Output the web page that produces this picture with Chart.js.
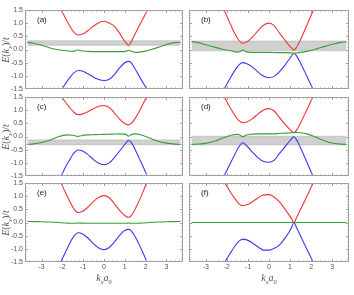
<!DOCTYPE html>
<html>
<head>
<meta charset="utf-8">
<script src="https://cdn.jsdelivr.net/npm/chart.js@4.4.1/dist/chart.umd.min.js"></script>
<style>
  html, body { margin: 0; padding: 0; background: #fff; }
  #wrap { position: relative; width: 354px; height: 295px; overflow: hidden; }
  #wrap canvas { position: absolute; left: 0; top: 0; }
  .tag { position: absolute; font: 8px "Liberation Sans", Arial, sans-serif; color: #222; line-height: 1; }
  .ytitle, .xtitle { position: absolute; font: italic 10px "Liberation Serif", "DejaVu Serif", serif; color: #555; white-space: nowrap; line-height: 1; }
  .ytitle { transform: translate(-50%, -50%) rotate(-90deg); }
  .xtitle { transform: translate(-50%, -50%); }
  .up { font-style: normal; }
  sub { font-size: 6.5px; }
</style>
</head>
<body>
<div id="wrap"></div>
<script>
const kBand = [-2.4, -2.1, -1.85, -1.65, -1.45, -1.25, -1.05, -0.8, -0.5, -0.25, 0, 0.25, 0.5, 0.75, 0.95, 1.08, 1.18, 1.3, 1.5, 1.7, 1.9, 2.1, 2.4];
// k values for the green (middle) band
const kFlat = [-3.68, -3.4, -3.0, -2.6, -2.2, -1.8, -1.5, -1.35, -1.25, -1.1, -0.8, -0.4, 0, 0.4, 0.8, 1.05, 1.18, 1.3, 1.5, 1.8, 2.2, 2.6, 3.0, 3.4, 3.68];
const kShade = [-3.68, 3.68];

const redA  = [2.02, 1.56, 1.19, 0.90, 0.66, 0.55, 0.58, 0.70, 0.89, 1.02, 1.07, 1.01, 0.88, 0.62, 0.36, 0.23, 0.16, 0.28, 0.60, 0.91, 1.21, 1.51, 1.97];
const blueA = [-1.92, -1.58, -1.29, -1.07, -0.89, -0.80, -0.82, -0.91, -1.05, -1.14, -1.18, -1.13, -0.95, -0.70, -0.53, -0.47, -0.45, -0.50, -0.74, -1.02, -1.29, -1.56, -1.98];
const greenA = [0.27, 0.24, 0.16, 0.06, -0.01, -0.05, -0.07, -0.04, -0.02, -0.05, -0.07, -0.08, -0.08, -0.08, -0.08, -0.07, -0.03, -0.06, -0.11, -0.09, -0.02, 0.08, 0.19, 0.26, 0.27];

const redB  = [1.99, 1.44, 0.99, 0.65, 0.37, 0.24, 0.29, 0.46, 0.74, 0.93, 1.00, 0.90, 0.62, 0.36, 0.16, 0.05, -0.02, 0.07, 0.38, 0.74, 1.11, 1.48, 2.06];
const blueB = [-1.89, -1.46, -1.10, -0.83, -0.60, -0.50, -0.54, -0.66, -0.87, -1.02, -1.07, -1.02, -0.84, -0.60, -0.38, -0.23, -0.14, -0.23, -0.52, -0.85, -1.19, -1.53, -2.05];
const greenB = [0.30, 0.27, 0.18, 0.09, 0.01, -0.05, -0.10, -0.07, -0.02, -0.08, -0.11, -0.11, -0.11, -0.12, -0.12, -0.13, -0.14, -0.13, -0.11, -0.07, 0.01, 0.11, 0.20, 0.27, 0.29];

const redC  = [1.98, 1.58, 1.30, 1.10, 0.92, 0.83, 0.85, 0.93, 1.06, 1.15, 1.18, 1.10, 0.90, 0.66, 0.52, 0.46, 0.45, 0.49, 0.69, 0.96, 1.27, 1.58, 2.05];
const blueC = [-2.00, -1.56, -1.16, -0.88, -0.63, -0.51, -0.54, -0.67, -0.88, -1.02, -1.07, -1.00, -0.80, -0.55, -0.35, -0.22, -0.15, -0.21, -0.50, -0.84, -1.18, -1.53, -2.05];
const greenC = [-0.30, -0.28, -0.23, -0.14, -0.01, 0.06, 0.05, 0.02, 0.00, 0.03, 0.06, 0.07, 0.08, 0.09, 0.10, 0.08, 0.01, 0.07, 0.10, 0.06, -0.06, -0.18, -0.25, -0.29, -0.30];

const redD  = [1.88, 1.46, 1.10, 0.84, 0.62, 0.52, 0.55, 0.67, 0.87, 1.01, 1.06, 0.97, 0.72, 0.48, 0.30, 0.20, 0.14, 0.23, 0.52, 0.85, 1.19, 1.53, 2.04];
const blueD = [-1.94, -1.45, -1.04, -0.72, -0.42, -0.24, -0.36, -0.58, -0.82, -0.95, -0.98, -0.90, -0.64, -0.40, -0.20, -0.08, -0.01, -0.11, -0.43, -0.79, -1.16, -1.53, -2.10];
const greenD = [-0.30, -0.29, -0.26, -0.18, -0.06, 0.05, 0.08, 0.04, -0.01, 0.05, 0.09, 0.10, 0.10, 0.11, 0.13, 0.14, 0.15, 0.15, 0.14, 0.10, -0.02, -0.15, -0.25, -0.29, -0.30];

const redE  = [2.09, 1.57, 1.13, 0.81, 0.52, 0.38, 0.42, 0.56, 0.80, 0.96, 1.02, 0.94, 0.71, 0.46, 0.30, 0.22, 0.20, 0.25, 0.51, 0.84, 1.21, 1.60, 2.18];
const blueE = [-2.03, -1.53, -1.12, -0.80, -0.52, -0.39, -0.43, -0.57, -0.81, -0.97, -1.03, -0.95, -0.74, -0.49, -0.33, -0.27, -0.26, -0.31, -0.54, -0.85, -1.20, -1.55, -2.10];
const greenE = [0.04, 0.035, 0.03, 0.02, 0.00, -0.02, -0.03, -0.025, -0.02, -0.025, -0.03, -0.03, -0.03, -0.03, -0.03, -0.03, -0.02, -0.03, -0.03, -0.02, 0.00, 0.02, 0.03, 0.035, 0.04];

const redF  = [1.89, 1.50, 1.18, 0.94, 0.73, 0.64, 0.67, 0.78, 0.95, 1.05, 1.06, 0.96, 0.78, 0.52, 0.29, 0.13, 0.00, 0.17, 0.50, 0.83, 1.17, 1.50, 2.00];
const blueF = [-1.89, -1.50, -1.18, -0.93, -0.73, -0.63, -0.66, -0.77, -0.94, -1.05, -1.05, -0.98, -0.85, -0.60, -0.37, -0.17, 0.00, -0.18, -0.51, -0.85, -1.18, -1.52, -2.02];
const greenF = [0, 0, 0, 0, 0, 0, 0, 0, 0, 0, 0, 0, 0, 0, 0, 0, 0, 0, 0, 0, 0, 0, 0, 0, 0];

// grey shaded energy window per panel (a..f); null = none
const shadeLow  = [0.16, -0.05, -0.31, -0.32, null, null];
const shadeHigh = [0.33, 0.32, -0.13, 0.01, null, null];

const panelTags = ['(a)', '(b)', '(c)', '(d)', '(e)', '(f)'];
const reds   = [redA, redB, redC, redD, redE, redF];
const blues  = [blueA, blueB, blueC, blueD, blueE, blueF];
const greens = [greenA, greenB, greenC, greenD, greenE, greenF];

const xTicks = [-3, -2, -1, 0, 1, 2, 3];
const yTicks = [-1.5, -1.0, -0.5, 0.0, 0.5, 1.0, 1.5];

// layout of the 3x2 grid (page pixels)
const W = 354, H = 295;
const colL = [25, 189], colR = [183, 349];
const rowT = [10, 97, 183], rowB = [89, 176, 262];

const RED = '#f03535', BLUE = '#3838f0', GREEN = '#35a035';

const pts = (ks, vs) => ks.map((k, i) => ({x: k, y: vs[i]}));

// frame with inward ticks, Mathematica style
const framePlugin = {
    id: 'frame',
    afterDraw(chart) {
        const {ctx, chartArea: a, scales: {x, y}} = chart;
        ctx.save();
        ctx.strokeStyle = '#a0a0a0';
        ctx.lineWidth = 1;
        ctx.strokeRect(a.left + 0.5, a.top + 0.5, a.right - a.left - 1, a.bottom - a.top - 1);
        ctx.beginPath();
        for (let i = -18; i <= 18; i++) {
            const v = i / 5;
            const px = Math.round(x.getPixelForValue(v)) + 0.5;
            if (px <= a.left + 1 || px >= a.right - 1) continue;
            const len = i % 5 === 0 ? 3 : 1.5;
            ctx.moveTo(px, a.bottom); ctx.lineTo(px, a.bottom - len);
            ctx.moveTo(px, a.top); ctx.lineTo(px, a.top + len);
        }
        for (let i = -15; i <= 15; i++) {
            const v = i / 10;
            const py = Math.round(y.getPixelForValue(v)) + 0.5;
            if (py <= a.top + 1 || py >= a.bottom - 1) continue;
            const len = i % 5 === 0 ? 3 : 1.5;
            ctx.moveTo(a.left, py); ctx.lineTo(a.left + len, py);
            ctx.moveTo(a.right, py); ctx.lineTo(a.right - len, py);
        }
        ctx.stroke();
        ctx.restore();
    }
};

const wrap = document.getElementById('wrap');

function makePanel(p) {
    const col = p % 2, row = Math.floor(p / 2);
    const canvas = document.createElement('canvas');
    canvas.width = W; canvas.height = H;
    wrap.appendChild(canvas);

    const line = (data, color) => ({
        data: data,
        borderColor: color,
        borderWidth: 1.1,
        pointRadius: 0,
        fill: false,
        cubicInterpolationMode: 'monotone',
        order: 0
    });

    const datasets = [];
    if (shadeLow[p] !== null) {
        datasets.push({
            data: pts(kShade, [shadeLow[p], shadeLow[p]]),
            borderColor: '#b4b4b4', borderWidth: 0.6, pointRadius: 0, fill: false, order: 5
        });
        datasets.push({
            data: pts(kShade, [shadeHigh[p], shadeHigh[p]]),
            borderColor: '#b4b4b4', borderWidth: 0.6, pointRadius: 0,
            fill: '-1', backgroundColor: 'rgba(205,205,205,0.95)', order: 5
        });
    }
    datasets.push(line(pts(kFlat, greens[p]), GREEN));
    datasets.push(line(pts(kBand, blues[p]), BLUE));
    datasets.push(line(pts(kBand, reds[p]), RED));

    const tickFont = {family: '"Liberation Sans", Arial, sans-serif', size: 7};

    // axis boxes take the whole margin so their labels are not clipped
    const yBox = colL[col];
    const xBox = H - rowB[row];

    new Chart(canvas, {
        type: 'line',
        data: {datasets: datasets},
        options: {
            responsive: false,
            animation: false,
            events: [],
            layout: {
                padding: {left: 0, right: W - colR[col], top: rowT[row], bottom: 0}
            },
            plugins: {legend: {display: false}, tooltip: {enabled: false}},
            scales: {
                x: {
                    type: 'linear', min: -3.8, max: 3.8,
                    grid: {display: false, drawTicks: false}, border: {display: false},
                    afterBuildTicks: s => { s.ticks = xTicks.map(v => ({value: v})); },
                    afterFit: s => { s.height = xBox; },
                    ticks: {
                        display: row === 2, padding: 1, color: '#555', font: tickFont,
                        maxRotation: 0, autoSkip: false,
                        callback: v => String(v)
                    }
                },
                y: {
                    type: 'linear', min: -1.5, max: 1.5,
                    grid: {display: false, drawTicks: false}, border: {display: false},
                    afterBuildTicks: s => { s.ticks = yTicks.map(v => ({value: v})); },
                    afterFit: s => { s.width = yBox; },
                    ticks: {
                        display: col === 0, padding: 2, color: '#555', font: tickFont,
                        autoSkip: false,
                        callback: v => Number(v).toFixed(1)
                    }
                }
            }
        },
        plugins: [framePlugin]
    });

    const tag = document.createElement('div');
    tag.className = 'tag';
    tag.textContent = panelTags[p];
    tag.style.left = (colL[col] + 12) + 'px';
    tag.style.top = (rowT[row] + 6) + 'px';
    wrap.appendChild(tag);

    if (col === 0) {
        const yt = document.createElement('div');
        yt.className = 'ytitle';
        yt.innerHTML = 'E<span class="up">(</span>k<sub>x</sub><span class="up">)/</span>t';
        yt.style.left = '7px';
        yt.style.top = ((rowT[row] + rowB[row]) / 2) + 'px';
        wrap.appendChild(yt);
    }
    if (row === 2) {
        const xt = document.createElement('div');
        xt.className = 'xtitle';
        xt.innerHTML = 'k<sub>x</sub>a<sub class="up">0</sub>';
        xt.style.left = ((colL[col] + colR[col]) / 2) + 'px';
        xt.style.top = '279px';
        wrap.appendChild(xt);
    }
}

for (let p = 0; p < 6; p++) makePanel(p);
</script>
</body>
</html>
